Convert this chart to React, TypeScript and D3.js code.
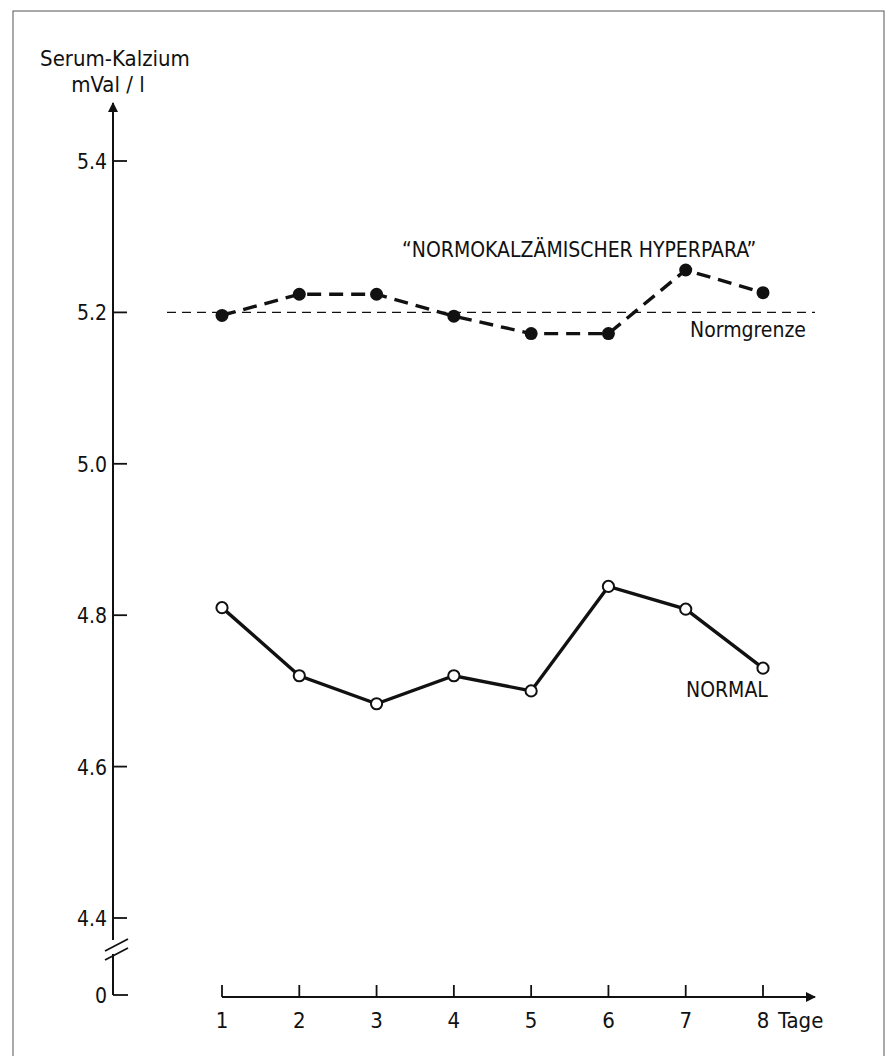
import { useEffect, useRef } from "react";
import * as d3 from "d3";

// values
const days = [1, 2, 3, 4, 5, 6, 7, 8];
const hyperpara = [5.196, 5.224, 5.224, 5.195, 5.172, 5.172, 5.256, 5.226];
const normal = [4.81, 4.72, 4.683, 4.72, 4.70, 4.838, 4.808, 4.73];
const yTicks = [4.4, 4.6, 4.8, 5.0, 5.2, 5.4];
const normgrenze = 5.2;

const W = 891;
const H = 1056;
const FONT = "'DejaVu Sans Condensed', 'Liberation Sans Narrow', 'DejaVu Sans', sans-serif";

const App = () => {
  const ref = useRef<SVGSVGElement>(null);

  useEffect(() => {
    document.body.style.margin = "0";
    const svg = d3.select(ref.current);
    svg.selectAll("*").remove();

    const axisX = 113; // y axis position
    const axisY = 997; // x axis position
    const zeroY = 995;

    const x = d3.scaleLinear().domain([1, 8]).range([222, 763]);
    const y = d3.scaleLinear().domain([4.4, 5.4]).range([918, 161]);

    // frame
    svg
      .append("rect")
      .attr("x", 13)
      .attr("y", 11)
      .attr("width", 871)
      .attr("height", 1080)
      .attr("fill", "none")
      .attr("stroke", "#555")
      .attr("stroke-width", 1);

    const ink = "#111";

    // arrow markers
    const defs = svg.append("defs");
    defs
      .append("marker")
      .attr("id", "arrow")
      .attr("viewBox", "0 0 10 10")
      .attr("refX", 9)
      .attr("refY", 5)
      .attr("markerWidth", 14)
      .attr("markerHeight", 10)
      .attr("markerUnits", "userSpaceOnUse")
      .attr("orient", "auto")
      .append("path")
      .attr("d", "M0,0 L10,5 L0,10 Z")
      .attr("fill", ink);

    // y axis: upper part with arrow, lower stub to zero
    svg
      .append("line")
      .attr("x1", axisX)
      .attr("x2", axisX)
      .attr("y1", 940)
      .attr("y2", 103)
      .attr("stroke", ink)
      .attr("stroke-width", 2)
      .attr("marker-end", "url(#arrow)");
    svg
      .append("line")
      .attr("x1", axisX)
      .attr("x2", axisX)
      .attr("y1", 954)
      .attr("y2", zeroY)
      .attr("stroke", ink)
      .attr("stroke-width", 2);

    // break marks
    [0, 9].forEach((o) => {
      svg
        .append("line")
        .attr("x1", 105)
        .attr("y1", 951 + o)
        .attr("x2", 128)
        .attr("y2", 939 + o)
        .attr("stroke", ink)
        .attr("stroke-width", 1.8);
    });

    // y ticks
    yTicks.forEach((t) => {
      svg
        .append("line")
        .attr("x1", axisX)
        .attr("x2", axisX + 14)
        .attr("y1", y(t))
        .attr("y2", y(t))
        .attr("stroke", ink)
        .attr("stroke-width", 1.8);
      svg
        .append("text")
        .attr("x", 107)
        .attr("y", y(t) + 8)
        .attr("text-anchor", "end")
        .attr("font-family", FONT)
        .attr("font-size", 21)
        .attr("fill", ink)
        .text(t.toFixed(1));
    });
    svg
      .append("line")
      .attr("x1", axisX)
      .attr("x2", axisX + 15)
      .attr("y1", zeroY)
      .attr("y2", zeroY)
      .attr("stroke", ink)
      .attr("stroke-width", 1.8);
    svg
      .append("text")
      .attr("x", 107)
      .attr("y", zeroY + 8)
      .attr("text-anchor", "end")
      .attr("font-family", FONT)
      .attr("font-size", 21)
      .attr("fill", ink)
      .text("0");

    // y axis title
    svg
      .append("text")
      .attr("x", 115)
      .attr("y", 66)
      .attr("text-anchor", "middle")
      .attr("font-family", FONT)
      .attr("font-size", 22)
      .attr("fill", ink)
      .text("Serum-Kalzium");
    svg
      .append("text")
      .attr("x", 108)
      .attr("y", 92)
      .attr("text-anchor", "middle")
      .attr("font-family", FONT)
      .attr("font-size", 22)
      .attr("fill", ink)
      .text("mVal / l");

    // x axis
    svg
      .append("line")
      .attr("x1", x(1))
      .attr("x2", 815)
      .attr("y1", axisY)
      .attr("y2", axisY)
      .attr("stroke", ink)
      .attr("stroke-width", 1.8)
      .attr("marker-end", "url(#arrow)");

    days.forEach((d) => {
      svg
        .append("line")
        .attr("x1", x(d))
        .attr("x2", x(d))
        .attr("y1", axisY)
        .attr("y2", axisY - 12)
        .attr("stroke", ink)
        .attr("stroke-width", 1.8);
      svg
        .append("text")
        .attr("x", x(d))
        .attr("y", 1028)
        .attr("text-anchor", "middle")
        .attr("font-family", FONT)
        .attr("font-size", 22)
        .attr("fill", ink)
        .text(d);
    });
    svg
      .append("text")
      .attr("x", 778)
      .attr("y", 1028)
      .attr("font-family", FONT)
      .attr("font-size", 22)
      .attr("fill", ink)
      .text("Tage");

    // Normgrenze reference line
    svg
      .append("line")
      .attr("x1", 167)
      .attr("x2", 815)
      .attr("y1", y(normgrenze))
      .attr("y2", y(normgrenze))
      .attr("stroke", ink)
      .attr("stroke-width", 1.2)
      .attr("stroke-dasharray", "9,6");
    svg
      .append("text")
      .attr("x", 806)
      .attr("y", 337)
      .attr("text-anchor", "end")
      .attr("font-family", FONT)
      .attr("font-size", 21)
      .attr("fill", ink)
      .text("Normgrenze");

    const line = d3
      .line<number>()
      .x((_, i) => x(days[i]))
      .y((v) => y(v));

    // hyperpara series
    svg
      .append("path")
      .datum(hyperpara)
      .attr("d", line)
      .attr("fill", "none")
      .attr("stroke", ink)
      .attr("stroke-width", 3.4)
      .attr("stroke-dasharray", "14,8");
    svg
      .selectAll("circle.hyper")
      .data(hyperpara)
      .enter()
      .append("circle")
      .attr("class", "hyper")
      .attr("cx", (_, i) => x(days[i]))
      .attr("cy", (v) => y(v))
      .attr("r", 6.5)
      .attr("fill", ink);

    // normal series
    svg
      .append("path")
      .datum(normal)
      .attr("d", line)
      .attr("fill", "none")
      .attr("stroke", ink)
      .attr("stroke-width", 3.4);
    svg
      .selectAll("circle.normal")
      .data(normal)
      .enter()
      .append("circle")
      .attr("class", "normal")
      .attr("cx", (_, i) => x(days[i]))
      .attr("cy", (v) => y(v))
      .attr("r", 5.6)
      .attr("fill", "#fff")
      .attr("stroke", ink)
      .attr("stroke-width", 2);

    // series labels
    svg
      .append("text")
      .attr("x", 402)
      .attr("y", 257)
      .attr("font-family", FONT)
      .attr("font-size", 21)
      .attr("fill", ink)
      .text("\u201CNORMOKALZÄMISCHER HYPERPARA\u201D");
    svg
      .append("text")
      .attr("x", 686)
      .attr("y", 697)
      .attr("font-family", FONT)
      .attr("font-size", 21)
      .attr("fill", ink)
      .text("NORMAL");
  }, []);

  return <svg ref={ref} width={W} height={H} style={{ display: "block", background: "#fff" }} />;
};

export default App;
